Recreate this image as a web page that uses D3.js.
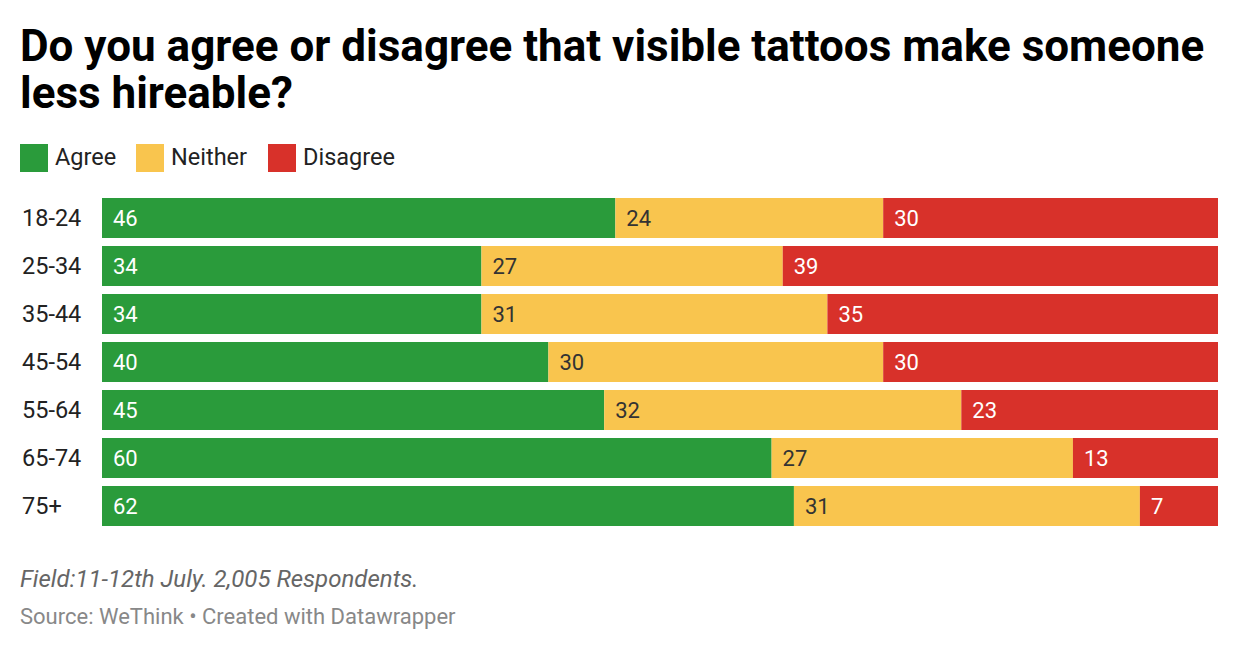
<!DOCTYPE html>
<html><head><meta charset="utf-8">
<script src="https://cdn.jsdelivr.net/npm/d3@7"></script>
<style>body{margin:0;background:#fff;font-family:Roboto,sans-serif;}</style>
</head><body>
<svg id="chart" width="1240" height="652"></svg>
<script>
const categories = ["18-24","25-34","35-44","45-54","55-64","65-74","75+"];
const seriesNames = ["Agree","Neither","Disagree"];
const agree    = [46,34,34,40,45,60,62];
const neither  = [24,27,31,30,32,27,31];
const disagree = [30,39,35,30,23,13,7];
const colors = ["#2a9b3b","#f9c54e","#d8312a"];
const textColors = ["#ffffff","#333333","#ffffff"];

const svg = d3.select("#chart");
const W = 1240, H = 652;
svg.append("rect").attr("width",W).attr("height",H).attr("fill","#fff");

// Title
const title = svg.append("text").attr("font-family","Roboto").attr("font-weight",700)
  .attr("font-size",44).attr("fill","#000");
title.append("tspan").attr("x",20).attr("y",61).text("Do you agree or disagree that visible tattoos make someone");
title.append("tspan").attr("x",20).attr("y",108).text("less hireable?");

// Legend
const legendX = [20,136,268];
seriesNames.forEach((n,i)=>{
  const g = svg.append("g");
  g.append("rect").attr("x",legendX[i]).attr("y",144).attr("width",28).attr("height",28).attr("fill",colors[i]);
  g.append("text").attr("x",legendX[i]+35).attr("y",164.5).attr("font-size",23.5)
    .attr("fill","#222").text(n);
});

const data = categories.map((c,i)=>({cat:c, vals:[agree[i],neither[i],disagree[i]]}));
const x = d3.scaleLinear().domain([0,100]).range([102,1218]);
const y = d3.scaleBand().domain(categories).range([198, 198 + 48*(7 - 1/6)]).paddingInner(1/6).paddingOuter(0);

const rows = svg.selectAll("g.row").data(data).enter().append("g").attr("class","row");
rows.append("text").attr("x",22).attr("y",d=>y(d.cat)+y.bandwidth()/2).attr("dy","0.36em")
  .attr("font-size",23.5).attr("fill","#222").text(d=>d.cat);

rows.each(function(d){
  const g = d3.select(this);
  let acc = 0;
  d.vals.forEach((v,i)=>{
    const x0 = x(acc), x1 = x(acc+v);
    g.append("rect").attr("x",x0).attr("y",y(d.cat)).attr("width",x1-x0).attr("height",y.bandwidth()).attr("fill",colors[i]);
    g.append("text").attr("x",x0+11).attr("y",y(d.cat)+y.bandwidth()/2).attr("dy","0.36em")
      .attr("font-size",22).attr("fill",textColors[i]).text(v);
    acc += v;
  });
});

// Footer
svg.append("text").attr("x",20).attr("y",587).attr("font-size",24).attr("font-style","italic")
  .attr("fill","#666").text("Field:11-12th July. 2,005 Respondents.");
svg.append("text").attr("x",20).attr("y",624).attr("font-size",22)
  .attr("fill","#888").text("Source: WeThink • Created with Datawrapper");
</script>
</body></html>
